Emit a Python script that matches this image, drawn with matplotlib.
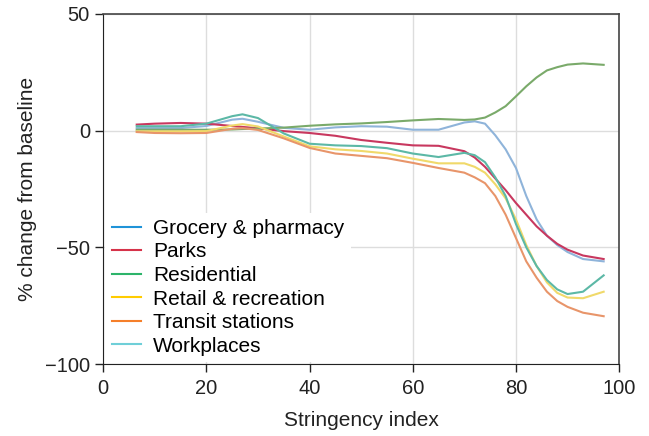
import matplotlib
matplotlib.use('Agg')
import matplotlib.pyplot as plt
from matplotlib.lines import Line2D

plt.rcParams['font.family'] = ['Liberation Sans', 'DejaVu Sans']

# stringency index values where the curves were read
stringency = [6.5, 10, 15, 20, 25, 27, 30, 35, 40, 45, 50, 55, 60, 65, 70, 72, 74, 76, 78, 80, 82, 84, 86, 88, 90, 93, 97]

grocery = [1.1, 1.1, 1.1, 2.0, 4.7, 5.1, 3.8, 1.2, 0.4, 1.4, 1.9, 1.7, 0.4, 0.4, 3.5, 4.0, 3.0, -2.0, -8, -16, -28, -38, -45, -49, -52, -55, -56]
parks = [2.6, 3.0, 3.3, 3.0, 2.0, 1.6, 1.0, -0.2, -1.0, -2.2, -4.0, -5.2, -6.3, -6.5, -8.8, -11.5, -15.5, -20.5, -25.5, -31, -36, -41, -45, -48.5, -51, -53.5, -55]
residential = [0.4, 0.4, 0.4, 0.4, 0.5, 0.7, 0.9, 1.3, 2.1, 2.7, 3.1, 3.7, 4.4, 5.0, 4.6, 4.8, 5.6, 7.8, 10.5, 14.7, 19, 22.8, 25.8, 27.2, 28.3, 28.8, 28.2]
retail = [-0.3, -0.3, -0.3, -0.2, 2.2, 2.8, 1.8, -2.5, -6.7, -8, -8.7, -9.8, -12, -14, -14, -15.5, -18, -23, -29, -38, -49, -58, -65, -69.5, -71.5, -71.8, -69]
transit = [-0.6, -1.0, -1.1, -1.0, 0.8, 1.1, 0.3, -3.3, -7.4, -9.8, -10.8, -11.8, -13.8, -16, -18, -20, -22.5, -28, -36, -46, -56, -63, -69, -73, -75.5, -78, -79.5]
workplaces = [1.9, 1.9, 1.9, 3.0, 6.2, 7.0, 5.4, -1.2, -5.6, -6.3, -6.6, -7.5, -9.8, -11.3, -9.5, -10.5, -13.5, -20, -28, -40, -50, -58, -64, -68, -70, -69, -62]

labels = ['Grocery & pharmacy', 'Parks', 'Residential', 'Retail & recreation', 'Transit stations', 'Workplaces']
series = [grocery, parks, residential, retail, transit, workplaces]
line_colors = ['#8fb4da', '#c8385f', '#7aaa6a', '#f0d96a', '#e8956a', '#5cb8a6']
legend_colors = ['#1f93d8', '#d6334a', '#2db46a', '#ffcc00', '#f57f2a', '#6fcfd8']

fig = plt.figure(figsize=(6.49, 4.36), dpi=100)
ax = fig.add_axes([0.159, 0.165, 0.795, 0.803])

for vals, c, lab in zip(series, line_colors, labels):
    ax.plot(stringency, vals, color=c, lw=1.5, label=lab)

ax.set_xlim(0, 100)
ax.set_ylim(-100, 50)
ax.set_xticks([0, 20, 40, 60, 80, 100])
ax.set_yticks([-100, -50, 0, 50])
ax.grid(True, color='#dddddd', lw=1)
ax.set_axisbelow(True)
ax.tick_params(direction='out', length=6, width=1, labelsize=14.5, colors='#222222')
ax.tick_params(axis='x', pad=5)
for s in ['left', 'bottom']:
    ax.spines[s].set_color('#222222')
for s in ['top', 'right']:
    ax.spines[s].set_color('#444444')
    ax.spines[s].set_linewidth(1.2)

ax.set_xlabel('Stringency index', fontsize=15, color='#222222', labelpad=9)
ax.set_ylabel('% change from baseline', fontsize=15, color='#222222', labelpad=6)

handles = [Line2D([0], [0], color=c, lw=1.5) for c in legend_colors]
leg = ax.legend(handles, labels, loc='lower left', fontsize=15, frameon=True,
                framealpha=1, edgecolor='none', fancybox=False,
                handlelength=1.4, handletextpad=0.6, labelspacing=0.22,
                borderaxespad=0.1, borderpad=0.3)

fig.savefig('out.png', dpi=100)
